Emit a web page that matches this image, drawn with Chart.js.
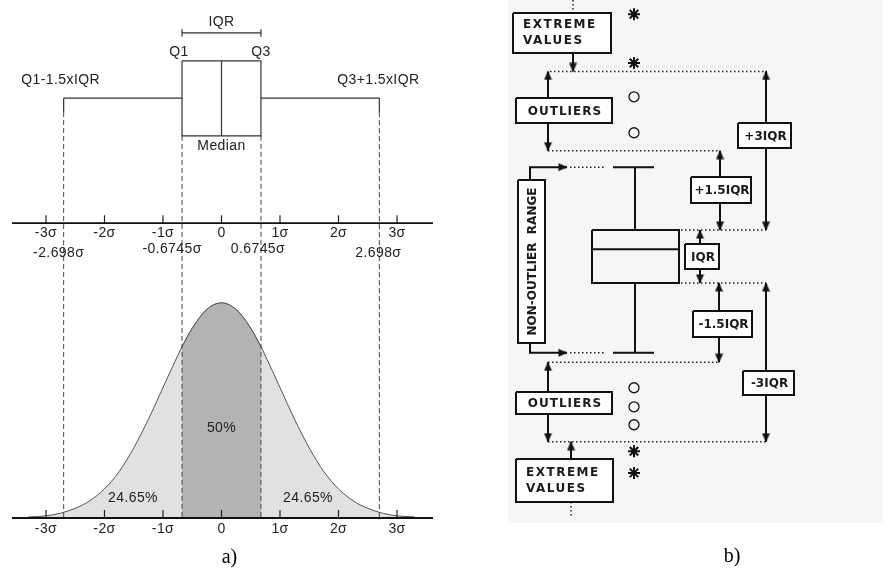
<!DOCTYPE html>
<html>
<head>
<meta charset="utf-8">
<script src="https://cdn.jsdelivr.net/npm/chart.js@4.4.1/dist/chart.umd.min.js"></script>
<style>
  html, body { margin: 0; padding: 0; background: #fff; }
  #wrap { position: relative; width: 885px; height: 577px; }
</style>
</head>
<body>
<div id="wrap"><canvas id="chart" width="885" height="577"></canvas></div>
<script>
// ---------- panel a) data (x in sigma units, y = density) ----------
const curveX = [-3.3, -3, -2.75, -2.5, -2.25, -2, -1.75, -1.5, -1.25, -1, -0.75, -0.6745, -0.5, -0.25, 0,
                0.25, 0.5, 0.6745, 0.75, 1, 1.25, 1.5, 1.75, 2, 2.25, 2.5, 2.75, 3, 3.3];
const curveY = [0.002, 0.004, 0.009, 0.018, 0.032, 0.054, 0.086, 0.130, 0.183, 0.242, 0.301, 0.318, 0.352, 0.387, 0.399,
                0.387, 0.352, 0.318, 0.301, 0.242, 0.183, 0.130, 0.086, 0.054, 0.032, 0.018, 0.009, 0.004, 0.002];
const sigmaTicks = [-3, -2, -1, 0, 1, 2, 3];
const sigmaLabels = ['-3σ', '-2σ', '-1σ', '0', '1σ', '2σ', '3σ'];
// whisker low, Q1, median, Q3, whisker high
const boxA = [-2.698, -0.6745, 0, 0.6745, 2.698];
const quartileLabels = ['-2.698σ', '-0.6745σ', '0.6745σ', '2.698σ'];
const areaLabels = ['24.65%', '50%', '24.65%'];

// ---------- panel b) data (y in IQR units, Q1 = 0) ----------
const boxB = [-1.32, 0, 0.64, 1, 2.19];          // whisker low, Q1, median, Q3, whisker high
const fences = [-3, -1.5, 2.5, 4];               // Q1-3IQR, Q1-1.5IQR, Q3+1.5IQR, Q3+3IQR
const outliersB = [3.52, 2.84, -1.98, -2.34, -2.68];
const extremesB = [5.08, 4.16, -3.18, -3.59];

// ---------- layout ----------
const [wLoA, q1A, medA, q3A, wHiA] = boxA;
const [wLoB, q1B, medB, q3B, wHiB] = boxB;
const [f3lo, f15lo, f15hi, f3hi] = fences;

const A = { iqrBar: 0.900, boxTop: 0.848, boxBot: 0.709, whisk: 0.779, capBot: 0.753,
            midAxis: 0.547, tick: 0.0148, axL: -3.58, axR: 3.615 };

// tag boxes of panel b): x in page px, y in IQR units
const tagsB = [
  { lines: ['EXTREME', 'VALUES'], x0: 513, x1: 611, y0: 5.104, y1: 4.348, left: true },
  { lines: ['OUTLIERS'], x0: 516, x1: 612, y0: 3.497, y1: 3.025 },
  { lines: ['+3IQR'], x0: 738, x1: 791, y0: 3.025, y1: 2.552 },
  { lines: ['+1.5IQR'], x0: 691, x1: 751, y0: 2.004, y1: 1.512 },
  { lines: ['IQR'], x0: 685, x1: 719, y0: 0.737, y1: 0.265 },
  { lines: ['-1.5IQR'], x0: 693, x1: 752, y0: -0.529, y1: -1.021 },
  { lines: ['-3IQR'], x0: 743, x1: 794, y0: -1.664, y1: -2.117 },
  { lines: ['OUTLIERS'], x0: 516, x1: 612, y0: -2.060, y1: -2.476 },
  { lines: ['EXTREME', 'VALUES'], x0: 516, x1: 613, y0: -3.327, y1: -4.140, left: true },
  { lines: ['NON-OUTLIER  RANGE'], x0: 518, x1: 545, y0: 1.947, y1: -1.134, vertical: true }
];

// arrows: [x, from, to] (head at "to")
const arrowsB = [
  [573, 4.348, f3hi], [548, 3.497, f3hi], [548, 3.025, f15hi],
  [766, 3.025, f3hi], [766, 2.552, q3B],
  [720, 2.004, f15hi], [720, 1.512, q3B],
  [700, 0.737, q3B], [700, 0.265, q1B],
  [719, -0.529, q1B], [719, -1.021, f15lo],
  [766, -1.664, q1B], [766, -2.117, f3lo],
  [548, -2.060, f15lo], [548, -2.476, f3lo],
  [571, -3.327, f3lo]
];

// ---------- helpers ----------
function segs(list) {
  const out = [];
  list.forEach(s => { out.push({ x: s[0], y: s[1] }, { x: s[2], y: s[3] }, { x: NaN, y: NaN }); });
  return out;
}
function rect(x0, x1, y0, y1) {
  return [{ x: x0, y: y0 }, { x: x1, y: y0 }, { x: x1, y: y1 }, { x: x0, y: y1 }, { x: x0, y: y0 }];
}

// arrow head image, tip at the centre so it lands right on the data point
const arrowHead = document.createElement('canvas');
arrowHead.width = 9; arrowHead.height = 18;
(function () {
  const c = arrowHead.getContext('2d');
  c.fillStyle = '#111';
  c.beginPath(); c.moveTo(0.5, 0.5); c.lineTo(8.5, 0.5); c.lineTo(4.5, 9.5); c.closePath(); c.fill();
})();

const L = { xAxisID: 'x', yAxisID: 'y', showLine: true, clip: false };
const R = { xAxisID: 'x2', yAxisID: 'y2', showLine: true, clip: false };

const datasets = [];

// panel a) curve
datasets.push(Object.assign({}, L, {
  data: curveX.map((x, i) => ({ x: x, y: curveY[i] })),
  fill: 'origin', backgroundColor: '#e1e1e1', borderColor: '#555', borderWidth: 1,
  cubicInterpolationMode: 'monotone', order: 10
}));
datasets.push(Object.assign({}, L, {
  data: curveX.map((x, i) => ({ x: x, y: curveY[i] })).filter(p => p.x >= q1A && p.x <= q3A),
  fill: 'origin', backgroundColor: '#b3b3b3', borderColor: '#555', borderWidth: 1,
  cubicInterpolationMode: 'monotone', order: 9
}));
// dashed guides
datasets.push(Object.assign({}, L, {
  data: segs([[wLoA, A.capBot, wLoA, 0], [wHiA, A.capBot, wHiA, 0],
              [q1A, A.boxBot, q1A, 0], [q3A, A.boxBot, q3A, 0]]),
  borderColor: '#444', borderWidth: 1, borderDash: [5, 3], order: 5
}));
// box plot a)
datasets.push(Object.assign({}, L, {
  data: rect(q1A, q3A, A.boxTop, A.boxBot).concat([{ x: NaN, y: NaN }]).concat(segs([
    [medA, A.boxTop, medA, A.boxBot],
    [wLoA, A.whisk, q1A, A.whisk], [q3A, A.whisk, wHiA, A.whisk],
    [wLoA, A.whisk, wLoA, A.capBot], [wHiA, A.whisk, wHiA, A.capBot],
    [q1A, A.iqrBar, q3A, A.iqrBar],
    [q1A, A.iqrBar + 0.007, q1A, A.iqrBar - 0.007], [q3A, A.iqrBar + 0.007, q3A, A.iqrBar - 0.007]
  ])),
  borderColor: '#333', borderWidth: 1.2, order: 2
}));
// axes a)
datasets.push(Object.assign({}, L, {
  data: segs([[A.axL, A.midAxis, A.axR, A.midAxis], [A.axL, 0, A.axR, 0]]),
  borderColor: '#111', borderWidth: 1.8, order: 1
}));
datasets.push(Object.assign({}, L, {
  data: segs(sigmaTicks.map(t => [t, A.midAxis, t, A.midAxis + A.tick])
    .concat(sigmaTicks.map(t => [t, 0, t, A.tick]))),
  borderColor: '#222', borderWidth: 1.2, order: 1
}));

// panel b) dotted fence lines
datasets.push(Object.assign({}, R, {
  data: segs([[550, f3hi, 767, f3hi], [548, f15hi, 720, f15hi], [681, q3B, 766, q3B],
              [681, q1B, 766, q1B], [548, f15lo, 719, f15lo], [548, f3lo, 766, f3lo],
              [570, wHiB, 606, wHiB], [570, wLoB, 606, wLoB],
              [573, 5.35, 573, 5.104], [571, -4.14, 571, -4.423]]),
  borderColor: '#222', borderWidth: 1.5, borderDash: [1.5, 2.5], order: 6
}));
// box plot b)
datasets.push(Object.assign({}, R, {
  data: rect(592, 679, q3B, q1B).concat([{ x: NaN, y: NaN }]).concat(segs([
    [592, medB, 679, medB],
    [635, q3B, 635, wHiB], [613, wHiB, 654, wHiB],
    [635, q1B, 635, wLoB], [613, wLoB, 654, wLoB]
  ])),
  borderColor: '#111', borderWidth: 2, order: 2
}));
// tag boxes
tagsB.forEach(t => {
  datasets.push(Object.assign({}, R, {
    data: rect(t.x0, t.x1, t.y0, t.y1),
    fill: 'shape', backgroundColor: '#fff', borderColor: '#111', borderWidth: 2, order: 3
  }));
});
// arrows
arrowsB.forEach(a => {
  datasets.push(Object.assign({}, R, {
    data: [{ x: a[0], y: a[1] }, { x: a[0], y: a[2] }],
    borderColor: '#111', borderWidth: 2, order: 2,
    pointRadius: [0, 1], pointStyle: ['circle', arrowHead],
    pointRotation: [0, a[2] > a[1] ? 180 : 0]
  }));
});
// non-outlier range elbows
[[boxB[4], 1.947], [boxB[0], -1.134]].forEach(e => {
  datasets.push(Object.assign({}, R, {
    data: [{ x: 530, y: e[1] }, { x: 530, y: e[0] }, { x: 567, y: e[0] }],
    borderColor: '#111', borderWidth: 2, order: 2,
    pointRadius: [0, 0, 1], pointStyle: ['circle', 'circle', arrowHead],
    pointRotation: [0, 0, -90]
  }));
});
// outliers and extremes
datasets.push(Object.assign({}, R, {
  showLine: false, data: outliersB.map(v => ({ x: 634, y: v })),
  pointStyle: 'circle', pointRadius: 5, borderColor: '#111', borderWidth: 1.3,
  backgroundColor: 'rgba(0,0,0,0)', order: 1
}));
datasets.push(Object.assign({}, R, {
  showLine: false, data: extremesB.map(v => ({ x: 634, y: v })),
  pointStyle: 'star', pointRadius: 6, borderColor: '#111', borderWidth: 2,
  backgroundColor: '#111', order: 1
}));

// ---------- plugins ----------
const panelBg = {
  id: 'panelBg',
  beforeDatasetsDraw(chart) {
    const { ctx, scales } = chart;
    const x0 = scales.x2.getPixelForValue(508), x1 = scales.x2.getPixelForValue(883);
    const y0 = scales.y2.getPixelForValue(5.35), y1 = scales.y2.getPixelForValue(-4.537);
    ctx.save();
    ctx.fillStyle = '#f6f6f6';
    ctx.fillRect(x0, y0, x1 - x0, y1 - y0);
    ctx.restore();
  }
};

const texts = {
  id: 'texts',
  afterDatasetsDraw(chart) {
    const { ctx, scales } = chart;
    const xa = v => scales.x.getPixelForValue(v), ya = v => scales.y.getPixelForValue(v);
    const xb = v => scales.x2.getPixelForValue(v), yb = v => scales.y2.getPixelForValue(v);
    ctx.save();
    ctx.textBaseline = 'middle';
    ctx.textAlign = 'center';
    ctx.fillStyle = '#222';
    ctx.font = '14px "Liberation Sans", Arial, sans-serif';
    ctx.letterSpacing = '0.4px';

    ctx.fillText('IQR', xa(medA), ya(0.920));
    ctx.fillText('Q1', xa(q1A) - 3, ya(0.8646));
    ctx.fillText('Q3', xa(q3A), ya(0.8646));
    ctx.fillText('Q1-1.5xIQR', xa(wLoA) - 3, ya(0.8126));
    ctx.fillText('Q3+1.5xIQR', xa(wHiA) - 1, ya(0.8126));
    ctx.fillText('Median', xa(medA), ya(0.690));

    sigmaTicks.forEach((t, i) => {
      ctx.fillText(sigmaLabels[i], xa(t), ya(0.5288));
      ctx.fillText(sigmaLabels[i], xa(t), ya(-0.0204));
    });
    const qx = [wLoA, q1A, q3A, wHiA], qdx = [-5, -10, -3, -1], qy = [0.4917, 0.4991, 0.4991, 0.4917];
    qx.forEach((v, i) => ctx.fillText(quartileLabels[i], xa(v) + qdx[i], ya(qy[i])));

    ctx.fillText(areaLabels[0], xa(-1.513), ya(0.0371));
    ctx.fillText(areaLabels[1], xa(medA), ya(0.167));
    ctx.fillText(areaLabels[2], xa(1.479), ya(0.0371));
    ctx.letterSpacing = '0px';

    ctx.fillStyle = '#000';
    ctx.font = '20px "Liberation Serif", "Times New Roman", serif';
    ctx.fillText('a)', xa(0.137), ya(-0.0742));
    ctx.fillText('b)', xb(732), yb(-5.18));

    // panel b) tags
    ctx.fillStyle = '#1a1a1a';
    ctx.font = 'bold 12px "DejaVu Sans", sans-serif';
    tagsB.forEach(t => {
      const cx = (xb(t.x0) + xb(t.x1)) / 2, cy = (yb(t.y0) + yb(t.y1)) / 2;
      if (t.vertical) {
        ctx.save();
        ctx.translate(cx + 1, cy);
        ctx.rotate(-Math.PI / 2);
        ctx.fillText(t.lines[0], 0, 0);
        ctx.restore();
      } else if (t.left) {
        ctx.textAlign = 'left';
        ctx.letterSpacing = '1.5px';
        ctx.fillText(t.lines[0], xb(t.x0) + 10, cy - 8);
        ctx.fillText(t.lines[1], xb(t.x0) + 10, cy + 8);
        ctx.letterSpacing = '0px';
        ctx.textAlign = 'center';
      } else {
        ctx.letterSpacing = t.lines[0] === 'OUTLIERS' ? '1px' : '0px';
        ctx.fillText(t.lines[0], cx + 1, cy + 1);
        ctx.letterSpacing = '0px';
      }
    });
    ctx.restore();
  }
};

new Chart(document.getElementById('chart'), {
  type: 'scatter',
  data: { datasets: datasets },
  options: {
    responsive: false,
    animation: false,
    events: [],
    layout: { padding: 0, autoPadding: false },
    elements: { point: { radius: 0 }, line: { tension: 0 } },
    plugins: { legend: { display: false }, tooltip: { enabled: false } },
    scales: {
      x: { type: 'linear', display: false, min: -3.7863, max: 11.342 },
      y: { type: 'linear', display: false, min: -0.10946, max: 0.96104 },
      x2: { type: 'linear', axis: 'x', display: false, min: 0, max: 885 },
      y2: { type: 'linear', axis: 'y', display: false, min: -5.5577, max: 5.3497 }
    }
  },
  plugins: [panelBg, texts]
});
</script>
</body>
</html>
